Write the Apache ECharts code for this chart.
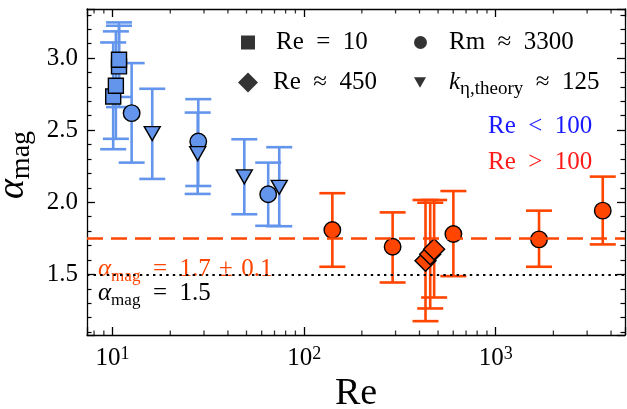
<!DOCTYPE html>
<html>
<head>
<meta charset="utf-8">
<script src="https://cdn.jsdelivr.net/npm/echarts@6/dist/echarts.min.js"></script>
<style>
  html, body { margin: 0; padding: 0; background: #fff; }
  #chart { width: 627px; height: 409px; }
</style>
</head>
<body>
<div id="chart"></div>
<script>
// ---- data ----
// Re < 100, squares (Re = 10)
const sqRe    = [10.07, 10.4, 10.8, 10.8];
const sqAlpha = [2.733, 2.808, 2.942, 2.988];
const sqLo    = [2.368, 2.44, 2.66, 2.73];
const sqHi    = [3.108, 3.185, 3.224, 3.247];
// Re < 100, circles (Rm ~ 3300)
const bcRe    = [12.57, 28.0, 64.9];
const bcAlpha = [2.618, 2.421, 2.056];
const bcLo    = [2.275, 2.113, 1.837];
const bcHi    = [2.965, 2.715, 2.275];
// Re < 100, triangles (k_eta ~ 125)
const btRe    = [16.1, 27.8, 48.7, 74.1];
const btAlpha = [2.476, 2.337, 2.176, 2.104];
const btLo    = [2.162, 2.058, 1.917, 1.834];
const btHi    = [2.787, 2.622, 2.437, 2.382];
// Re > 100, circles
const rcRe    = [140.3, 289.6, 601, 1683, 3620];
const rcAlpha = [1.808, 1.692, 1.78, 1.743, 1.942];
const rcLo    = [1.553, 1.444, 1.488, 1.553, 1.708];
const rcHi    = [2.063, 1.93, 2.078, 1.942, 2.178];
// Re > 100, diamonds (Re ~ 450)
const rdRe    = [430, 455, 477];
const rdAlpha = [1.594, 1.64, 1.674];
const rdLo    = [1.176, 1.264, 1.34];
const rdHi    = [2.016, 1.997, 2.016];
// reference lines
const fitLine = 1.745;
const kolLine = 1.5;
// axes
const xMin = 7.35, xMax = 4730;
const yMin = 1.08, yMax = 3.34;
const xMinorTicks = [8, 9, 20, 30, 40, 50, 60, 70, 80, 90, 200, 300, 400, 500, 600, 700, 800, 900, 2000, 3000, 4000];

const FONT = "'Liberation Serif', 'DejaVu Serif', serif";
const BLUE = '#6495ED';
const RED = '#FF4500';
const TRI = 'path://M0,0L2,0L1,1.75Z';
const SP = '\u2002';   // math-like spacing around relations
const SM = '\u2004';   // slightly narrower, around binary operators

const zip = (re, a) => re.map((r, i) => [r, a[i]]);

function errorBars(color, re, lo, hi) {
  return {
    type: 'custom',
    silent: true,
    z: 2,
    data: re.map((r, i) => [r, lo[i], hi[i]]),
    encode: { x: 0, y: [1, 2] },
    renderItem: (params, api) => {
      const top = api.coord([api.value(0), api.value(2)]);
      const bot = api.coord([api.value(0), api.value(1)]);
      const w = 13;
      const style = { stroke: color, lineWidth: 2.6 };
      return {
        type: 'group',
        children: [
          { type: 'line', shape: { x1: top[0], y1: top[1], x2: bot[0], y2: bot[1] }, style },
          { type: 'line', shape: { x1: top[0] - w, y1: top[1], x2: top[0] + w, y2: top[1] }, style },
          { type: 'line', shape: { x1: bot[0] - w, y1: bot[1], x2: bot[0] + w, y2: bot[1] }, style }
        ]
      };
    }
  };
}

function markers(symbol, size, color, re, a) {
  return {
    type: 'scatter',
    symbol: symbol,
    symbolSize: size,
    data: zip(re, a),
    z: 3,
    silent: true,
    itemStyle: { color: color, borderColor: '#000', borderWidth: 1.4, opacity: 1 }
  };
}

// empty series only used for the black legend keys
function legendSeries(name, symbol) {
  return {
    type: 'scatter', name: name, symbol: symbol, data: [],
    itemStyle: { color: '#000', borderColor: '#000', borderWidth: 0 }
  };
}

function minorTickSeries(y, offset) {
  return {
    type: 'scatter',
    silent: true,
    z: 6,
    symbol: 'rect',
    symbolSize: [1.3, 4.5],
    symbolOffset: [0, offset],
    itemStyle: { color: '#000' },
    data: xMinorTicks.map(v => [v, y])
  };
}

const legendRich = {
  t: { fontFamily: FONT, fontSize: 25, lineHeight: 28 },
  i: { fontFamily: FONT, fontSize: 25, fontStyle: 'italic', lineHeight: 28 },
  sub: { fontFamily: FONT, fontSize: 19, verticalAlign: 'bottom', lineHeight: 32 }
};

function mkLegend(name, label, icon, left, top, w, h) {
  return {
    data: [{ name: name, icon: icon }],
    left: left, top: top,
    padding: 0,
    itemWidth: w, itemHeight: h,
    itemGap: 0,
    selectedMode: false,
    formatter: () => label,
    textStyle: { fontFamily: FONT, fontSize: 25, color: '#000', rich: legendRich, padding: [0, 0, 0, 30 - w] }
  };
}

function mathText(rest, color, left, top) {
  return {
    type: 'text', left: left, top: top,
    style: {
      text: '{a|α}{s|mag}{t|' + rest + '}', fill: color,
      rich: {
        a: { fontFamily: FONT, fontSize: 25, fontStyle: 'italic', fill: color, lineHeight: 26 },
        s: { fontFamily: FONT, fontSize: 17, fill: color, verticalAlign: 'bottom', lineHeight: 31 },
        t: { fontFamily: FONT, fontSize: 25, fill: color, lineHeight: 26 }
      }
    }
  };
}

const option = {
  animation: false,
  backgroundColor: '#fff',
  grid: { left: 87, right: 2, top: 9, bottom: 74, outerBoundsMode: 'none', containLabel: false },
  xAxis: [
    {
      type: 'log', logBase: 10, min: xMin, max: xMax,
      position: 'bottom',
      name: 'Re', nameLocation: 'middle', nameGap: 40,
      nameTextStyle: { fontFamily: FONT, fontSize: 38, color: '#000' },
      axisLine: { lineStyle: { color: '#000', width: 1.3 } },
      axisTick: { inside: true, length: 8, lineStyle: { color: '#000', width: 1.3 } },
      splitLine: { show: false },
      axisLabel: {
        margin: 10,
        formatter: v => {
          const e = Math.log10(v);
          if (Math.abs(e - Math.round(e)) > 1e-6) return '';
          return '{b|10}{s|' + Math.round(e) + '}';
        },
        rich: {
          b: { fontFamily: FONT, fontSize: 25, color: '#000', lineHeight: 26 },
          s: { fontFamily: FONT, fontSize: 18, color: '#000', verticalAlign: 'top', lineHeight: 26 }
        }
      }
    },
    {
      type: 'log', logBase: 10, min: xMin, max: xMax,
      position: 'top',
      axisLine: { lineStyle: { color: '#000', width: 1.3 } },
      axisTick: { inside: true, length: 8, lineStyle: { color: '#000', width: 1.3 } },
      axisLabel: { show: false },
      splitLine: { show: false }
    }
  ],
  yAxis: [
    {
      type: 'value', min: yMin, max: yMax,
      position: 'left',
      name: '{a|α}{s|mag}', nameLocation: 'middle', nameGap: 45, nameRotate: 90,
      nameTextStyle: {
        padding: [0, 0, 0, 14],
        rich: {
          a: { fontFamily: FONT, fontSize: 38, fontStyle: 'italic', color: '#000', lineHeight: 40 },
          s: { fontFamily: FONT, fontSize: 28, color: '#000', verticalAlign: 'bottom', lineHeight: 46 }
        }
      },
      axisLine: { lineStyle: { color: '#000', width: 1.3 } },
      axisTick: { inside: true, length: 8, lineStyle: { color: '#000', width: 1.3 } },
      minorTick: { show: true, splitNumber: 5, length: 4.5, lineStyle: { color: '#000', width: 1.2 } },
      splitLine: { show: false },
      axisLabel: {
        margin: 9, fontFamily: FONT, fontSize: 25, color: '#000',
        formatter: v => (Math.abs(v * 2 - Math.round(v * 2)) < 1e-6 ? v.toFixed(1) : '')
      }
    },
    {
      type: 'value', min: yMin, max: yMax,
      position: 'right',
      axisLine: { lineStyle: { color: '#000', width: 1.3 } },
      axisTick: { inside: true, length: 8, lineStyle: { color: '#000', width: 1.3 } },
      minorTick: { show: true, splitNumber: 5, length: 4.5, lineStyle: { color: '#000', width: 1.2 } },
      splitLine: { show: false },
      axisLabel: { show: false }
    }
  ],
  legend: [
    mkLegend('sq', '{t|Re' + SP + '=' + SP + '10}', 'rect', 241, 30, 14, 14),
    mkLegend('ci', '{t|Rm' + SP + '≈' + SP + '3300}', 'circle', 414, 30, 13, 13),
    mkLegend('di', '{t|Re' + SP + '≈' + SP + '450}', 'diamond', 238, 70, 20, 20),
    mkLegend('tr', '{i|k}{sub|η,theory}{t|' + SP + '≈' + SP + '125}', TRI, 414, 70, 12, 11)
  ],
  graphic: [
    { type: 'text', left: 488, top: 114, style: { text: 'Re' + SP + '<' + SP + '100', fill: '#1a1aff', font: '25px ' + FONT } },
    { type: 'text', left: 488, top: 150, style: { text: 'Re' + SP + '>' + SP + '100', fill: '#ff1a1a', font: '25px ' + FONT } },
    mathText(SP + '=' + SP + '1.7' + SM + '±' + SM + '0.1', RED, 98, 257),
    mathText(SP + '=' + SP + '1.5', '#000', 98, 281)
  ],
  series: [
    legendSeries('sq', 'rect'),
    legendSeries('ci', 'circle'),
    legendSeries('di', 'diamond'),
    legendSeries('tr', TRI),
    {
      type: 'line', data: [], silent: true,
      markLine: {
        silent: true, symbol: 'none', label: { show: false },
        data: [
          { yAxis: fitLine, lineStyle: { color: RED, width: 2.6, type: [16, 8] } },
          { yAxis: kolLine, lineStyle: { color: '#000', width: 2.2, type: [2.4, 4.2] } }
        ]
      }
    },
    errorBars(BLUE, sqRe, sqLo, sqHi),
    errorBars(BLUE, bcRe, bcLo, bcHi),
    errorBars(BLUE, btRe, btLo, btHi),
    errorBars(RED, rcRe, rcLo, rcHi),
    errorBars(RED, rdRe, rdLo, rdHi),
    markers('circle', 16.5, BLUE, bcRe, bcAlpha),
    markers(TRI, [16, 14], BLUE, btRe, btAlpha),
    markers('rect', 15, BLUE, sqRe, sqAlpha),
    markers('circle', 16.5, RED, rcRe, rcAlpha),
    markers('diamond', [21, 21], RED, rdRe, rdAlpha),
    minorTickSeries(yMin, -2.25),
    minorTickSeries(yMax, 2.25)
  ]
};

const chart = echarts.init(document.getElementById('chart'));
chart.setOption(option);
</script>
</body>
</html>
